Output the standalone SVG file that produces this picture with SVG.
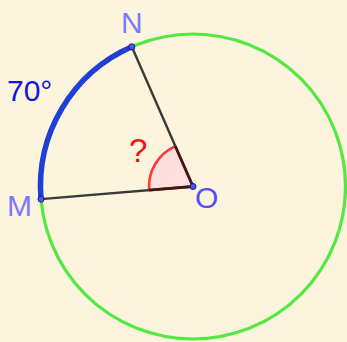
<svg xmlns="http://www.w3.org/2000/svg" width="347" height="342" viewBox="0 0 347 342">
<style>
.lbl{font-family:"Liberation Sans",Arial,sans-serif;font-size:30px}
.pt{fill:#5252ff;stroke:#1a1a70;stroke-width:1}
.seg{stroke:#3a3a3a;stroke-width:2.4;fill:none;stroke-linecap:round}
</style>
<rect x="0" y="0" width="347" height="342" fill="#fdf4de"/>
<g id="circle">
<circle cx="193" cy="186.5" r="152.5" fill="none" stroke="#55e844" stroke-width="3.2"/>
</g>
<g id="arc-MN">
<path d="M41,199.1 A152.5,152.5 0 0 1 131.8,46.8" fill="none" stroke="#1f3fd6" stroke-width="5.5"/>
</g>
<g id="angle">
<path d="M193,186.5 L149.15,190.13 A44,44 0 0 1 175.34,146.2 Z" fill="#ffdede" stroke="none"/>
<path d="M149.15,190.13 A44,44 0 0 1 175.34,146.2" fill="none" stroke="#ff3a3a" stroke-width="2.6"/>
</g>
<g id="connectors">
<line class="seg" x1="193" y1="186.5" x2="41" y2="199.1"/>
<line class="seg" x1="193" y1="186.5" x2="131.8" y2="46.8"/>
<path d="M149.15,190.13 L193,186.5 L175.34,146.2" fill="none" stroke="#4a1414" stroke-width="2.8" stroke-linejoin="round"/>
</g>
<g id="N">
<circle class="pt" cx="131.8" cy="46.8" r="3"/>
<text class="lbl" x="121" y="33" fill="#7a7aff">N</text>
</g>
<g id="M">
<circle class="pt" cx="41" cy="199.1" r="3"/>
<text class="lbl" x="7" y="216" fill="#7a7aff">M</text>
</g>
<g id="O">
<circle class="pt" cx="193" cy="186.5" r="3"/>
<text class="lbl" x="195" y="208" fill="#5050ff">O</text>
</g>
<text id="arc-label" class="lbl" x="7" y="101" fill="#1414e0">70°</text>
<text id="angle-label" class="lbl" x="129" y="162" fill="#ee1111" style="font-size:33px">?</text>
</svg>
